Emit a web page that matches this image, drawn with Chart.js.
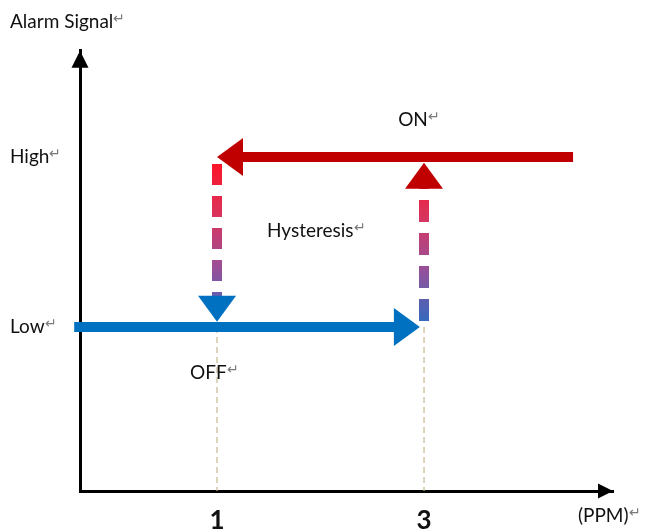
<!DOCTYPE html>
<html>
<head>
<meta charset="utf-8">
<script src="https://cdn.jsdelivr.net/npm/chart.js@4.4.0/dist/chart.umd.min.js"></script>
<style>
  html, body { margin: 0; padding: 0; background: #fff; }
  #wrap { width: 649px; height: 532px; }
</style>
</head>
<body>
<div id="wrap"><canvas id="hysChart"></canvas></div>
<script>
// 가로축 눈금(ppm)과 세로축 레벨
const ppmTicks = [1, 3];
const levelValues = [1, 2];
const levelNames = ['Low', 'High'];

// 파란 경로: 농도가 3ppm 까지 올라가는 동안 Low 유지
const lowPathX = [-0.38, 2.96];
const lowPathY = [1, 1];
// 빨간 경로: 농도가 1ppm 까지 내려가는 동안 High 유지
const highPathX = [4.44, 1];
const highPathY = [2, 2];
// 전환 구간 (점선)
const switchOnX = [3, 3];
const switchOnY = [1, 1.965];
const switchOffX = [1, 1];
const switchOffY = [2, 1.03];
// 가로축까지 내려가는 얇은 보조선
const guideX = [1, 3];

// 글자 메모: 내용, x(ppm), y(레벨)
const noteTexts = ['ON', 'Hysteresis', 'OFF', '(PPM)'];
const noteX = [2.75, 1.483, 0.739, 4.487];
const noteY = [2.218, 1.565, 0.73, -0.11];

const BLUE = '#0070C0';
const RED = '#C00000';
const TEXT = '#111';
const HEAD_LEN = 26;
const HEAD_WID = 38;
const FONT = 'Lato';

function pts(xs, ys) {
    return xs.map((x, i) => ({ x: x, y: ys[i] }));
}

// 점선은 위/아래 색이 바뀌는 그라데이션
function stepGradient(context) {
    const chart = context.chart;
    const { ctx, chartArea, scales } = chart;
    if (!chartArea) return RED;
    const top = scales.y.getPixelForValue(2);
    const bottom = scales.y.getPixelForValue(1);
    const g = ctx.createLinearGradient(0, top, 0, bottom);
    g.addColorStop(0, '#ff1020');
    g.addColorStop(0.35, '#d9345e');
    g.addColorStop(0.65, '#9a4f98');
    g.addColorStop(1, '#2a6cc2');
    return g;
}

function returnMark(ctx, x, yTop) {
    ctx.save();
    ctx.font = '14px ' + FONT;
    ctx.fillStyle = '#7a7a7a';
    ctx.textAlign = 'left';
    ctx.textBaseline = 'top';
    ctx.fillText('↵', x, yTop);
    ctx.restore();
}

function drawHead(ctx, x, y, ang, len, wid, color) {
    ctx.save();
    ctx.translate(x, y);
    ctx.rotate(ang);
    ctx.beginPath();
    ctx.moveTo(0, 0);
    ctx.lineTo(-len, -wid / 2);
    ctx.lineTo(-len, wid / 2);
    ctx.closePath();
    ctx.fillStyle = color;
    ctx.fill();
    ctx.restore();
}

// 화살표 머리: 마지막 점이 화살표 끝, 선은 머리 시작점에서 멈춘다
const arrowHeads = {
    id: 'arrowHeads',
    beforeDatasetsDraw(chart) {
        const { x: xs, y: ys } = chart.scales;
        chart.data.datasets.forEach((ds, i) => {
            if (!ds.headColor) return;
            const p = chart.getDatasetMeta(i).data;
            const raw0 = ds.data[ds.data.length - 2];
            const raw1 = ds.data[ds.data.length - 1];
            const ax = xs.getPixelForValue(raw0.x), ay = ys.getPixelForValue(raw0.y);
            const bx = xs.getPixelForValue(raw1.x), by = ys.getPixelForValue(raw1.y);
            const ang = Math.atan2(by - ay, bx - ax);
            const last = p[p.length - 1];
            last.x = bx - Math.cos(ang) * (HEAD_LEN - 1);
            last.y = by - Math.sin(ang) * (HEAD_LEN - 1);
        });
    },
    afterDatasetsDraw(chart) {
        const { ctx, chartArea } = chart;
        const { x: xs, y: ys } = chart.scales;
        chart.data.datasets.forEach((ds) => {
            if (!ds.headColor) return;
            const raw0 = ds.data[ds.data.length - 2];
            const raw1 = ds.data[ds.data.length - 1];
            const ax = xs.getPixelForValue(raw0.x), ay = ys.getPixelForValue(raw0.y);
            const bx = xs.getPixelForValue(raw1.x), by = ys.getPixelForValue(raw1.y);
            drawHead(ctx, bx, by, Math.atan2(by - ay, bx - ax), HEAD_LEN, HEAD_WID, ds.headColor);
        });
        // 축 화살표
        drawHead(ctx, chartArea.left, chartArea.top, -Math.PI / 2, 17, 17, '#000');
        drawHead(ctx, chartArea.right, chartArea.bottom, 0, 15, 15, '#000');
    },
    afterDraw(chart) {
        const { ctx } = chart;
        const { x: xs, y: ys } = chart.scales;
        ctx.save();
        ctx.font = '19px ' + FONT;
        ctx.fillStyle = TEXT;
        ctx.textAlign = 'left';
        ctx.textBaseline = 'middle';
        noteTexts.forEach((t, i) => {
            const px = xs.getPixelForValue(noteX[i]);
            const py = ys.getPixelForValue(noteY[i]);
            ctx.fillText(t, px, py);
            returnMark(ctx, px + ctx.measureText(t).width, py - 10);
        });
        // 세로축 레벨과 제목 뒤의 문단 기호
        levelValues.forEach((v, i) => {
            const py = ys.getPixelForValue(v);
            returnMark(ctx, ys.left + ctx.measureText(levelNames[i]).width, py - 10);
        });
        const tb = chart.titleBlock;
        returnMark(ctx, tb.left + ctx.measureText(chart.options.plugins.title.text).width, tb.top + 11);
        ctx.restore();
    }
};

const ctx = document.getElementById('hysChart').getContext('2d');
const hysChart = new Chart(ctx, {
    type: 'scatter',
    data: {
        datasets: [
            {
                data: pts(lowPathX, lowPathY),
                borderColor: BLUE,
                borderWidth: 10,
                headColor: BLUE,
                clip: false
            },
            {
                data: pts(highPathX, highPathY),
                borderColor: RED,
                borderWidth: 10,
                headColor: RED
            },
            {
                data: pts(switchOffX, switchOffY),
                borderColor: stepGradient,
                borderWidth: 10,
                borderDash: [21, 11],
                borderDashOffset: -7,
                headColor: BLUE
            },
            {
                data: pts(switchOnX, switchOnY),
                borderColor: stepGradient,
                borderWidth: 10,
                borderDash: [22, 11],
                borderDashOffset: -6,
                headColor: RED
            },
            {
                data: pts([guideX[0], guideX[0]], [1, 0]),
                borderColor: '#c6b78f',
                borderWidth: 1.2,
                borderDash: [6, 4]
            },
            {
                data: pts([guideX[1], guideX[1]], [1, 0]),
                borderColor: '#c6b78f',
                borderWidth: 1.2,
                borderDash: [6, 4]
            }
        ]
    },
    options: {
        responsive: true,
        maintainAspectRatio: false,
        animation: false,
        events: [],
        showLine: true,
        elements: {
            point: { radius: 0 },
            line: { tension: 0, borderCapStyle: 'butt' }
        },
        layout: {
            padding: { left: 10, right: 36, top: 0, bottom: 0 }
        },
        plugins: {
            legend: { display: false },
            tooltip: { enabled: false },
            title: {
                display: true,
                text: 'Alarm Signal',
                align: 'start',
                color: TEXT,
                font: { family: FONT, size: 19, weight: 'normal' },
                padding: { top: 10, bottom: 18 }
            }
        },
        scales: {
            x: {
                type: 'linear',
                min: -0.324,
                max: 4.826,
                grid: { display: false, drawTicks: false },
                border: { display: true, color: '#000', width: 3 },
                afterBuildTicks: (s) => { s.ticks = ppmTicks.map(v => ({ value: v })); },
                afterFit: (s) => { s.height = 41; },
                ticks: {
                    color: TEXT,
                    padding: 14,
                    font: { family: FONT, size: 26, weight: 'bold' }
                }
            },
            y: {
                type: 'linear',
                min: 0.035,
                max: 2.624,
                grid: { display: false, drawTicks: false },
                border: { display: true, color: '#000', width: 3 },
                afterBuildTicks: (s) => { s.ticks = levelValues.map(v => ({ value: v })); },
                afterFit: (s) => { s.width = 70; },
                ticks: {
                    color: TEXT,
                    crossAlign: 'far',
                    font: { family: FONT, size: 19 },
                    callback: (v, i) => levelNames[i]
                }
            }
        }
    },
    plugins: [arrowHeads]
});
</script>
</body>
</html>
